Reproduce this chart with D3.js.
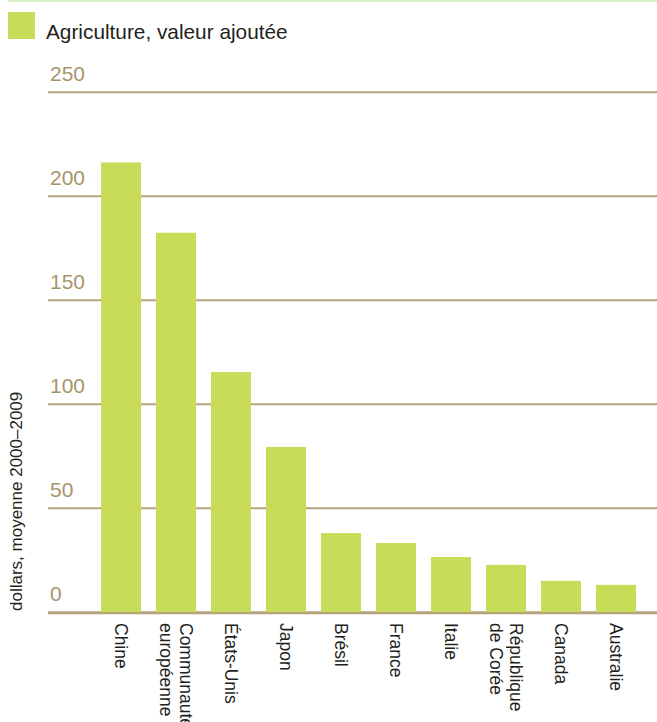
<!DOCTYPE html>
<html>
<head>
<meta charset="utf-8">
<script src="https://cdn.jsdelivr.net/npm/d3@7"></script>
<style>
  html, body { margin: 0; padding: 0; background: #fff; }
  svg { display: block; font-family: "Liberation Sans", Arial, sans-serif; }
</style>
</head>
<body>
<svg id="chart" width="657" height="722"></svg>
<script>
// Agricultural value added, average 2000–2009
const categories = [
  ["Chine"],
  ["Communauté", "européenne"],
  ["États-Unis"],
  ["Japon"],
  ["Brésil"],
  ["France"],
  ["Italie"],
  ["République", "de Corée"],
  ["Canada"],
  ["Australie"]
];
const values = [216.3, 182.5, 115.5, 79.5, 38.1, 33.3, 26.6, 22.8, 15.1, 13.2];
const tickValues = [0, 50, 100, 150, 200, 250];
const seriesName = "Agriculture, valeur ajoutée";
const axisTitle = "dollars, moyenne 2000–2009";

const barColor = "#c8dc5a";
const tickColor = "#a8946a";
const gridColor = "#b3a47c";

const svg = d3.select("#chart");
const keys = categories.map(c => c.join(" "));

const x = d3.scaleBand()
  .domain(keys)
  .range([93.5, 643.5])
  .paddingInner(15 / 55)
  .paddingOuter(7.5 / 55);

const y = d3.scaleLinear().domain([0, 250]).range([612.3, 92.3]);

// thin rule along the top edge
svg.append("line")
  .attr("x1", 8).attr("x2", 657).attr("y1", 1).attr("y2", 1)
  .attr("stroke", "#d6eec8").attr("stroke-width", 2);

// legend
svg.append("rect")
  .attr("x", 8).attr("y", 12).attr("width", 27).attr("height", 27)
  .attr("fill", barColor);
svg.append("text")
  .attr("x", 46).attr("y", 38.5)
  .attr("font-size", 20.8).attr("fill", "#231f20")
  .text(seriesName);

// gridlines and tick labels
const grid = svg.append("g");
grid.selectAll("line").data(tickValues).join("line")
  .attr("x1", 48).attr("x2", 657)
  .attr("y1", d => y(d)).attr("y2", d => y(d))
  .attr("stroke", gridColor).attr("stroke-width", 2);
grid.selectAll("text").data(tickValues).join("text")
  .attr("x", 50).attr("y", d => y(d) - 11)
  .attr("font-size", 21).attr("fill", tickColor)
  .text(d => d);

// bars
svg.append("g").selectAll("rect").data(values).join("rect")
  .attr("x", (d, i) => x(keys[i]))
  .attr("width", x.bandwidth())
  .attr("y", d => y(d))
  .attr("height", d => y(0) - y(d))
  .attr("fill", barColor);

// redraw the baseline over the bars
svg.append("line")
  .attr("x1", 48).attr("x2", 657).attr("y1", y(0) + 1).attr("y2", y(0) + 1)
  .attr("stroke", gridColor).attr("stroke-width", 2);

// rotated category labels
const lineGap = 20;
const lab = svg.append("g").selectAll("text").data(categories).join("text")
  .attr("font-size", 17.5).attr("fill", "#231f20")
  .attr("transform", (d, i) => {
    const cx = x(keys[i]) + x.bandwidth() / 2;
    const baseX = cx - 6 + (d.length - 1) * lineGap / 2;
    return `translate(${baseX},623) rotate(90)`;
  });
lab.selectAll("tspan").data(d => d).join("tspan")
  .attr("x", 0)
  .attr("y", (d, j) => j * lineGap)
  .text(d => d);

// y-axis title
svg.append("text")
  .attr("transform", "translate(22,611) rotate(-90)")
  .attr("font-size", 17).attr("fill", "#231f20")
  .text(axisTitle);
</script>
</body>
</html>
